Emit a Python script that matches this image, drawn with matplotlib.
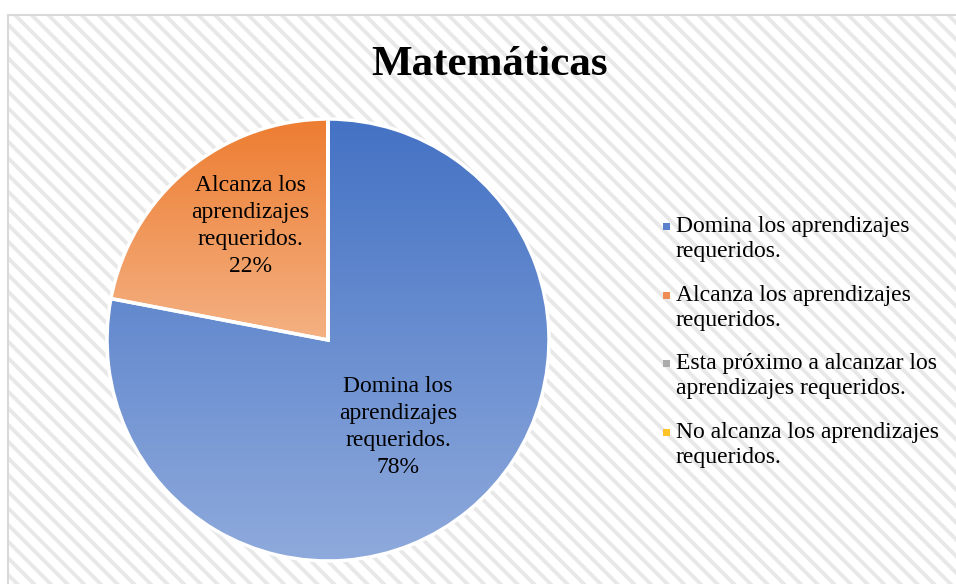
import numpy as np
import matplotlib
matplotlib.use('Agg')
import matplotlib.pyplot as plt
from matplotlib.patches import Rectangle, Patch
from matplotlib.colors import LinearSegmentedColormap

plt.rcParams['font.family'] = ['Liberation Serif', 'DejaVu Serif']
plt.rcParams['hatch.linewidth'] = 2.8

# --- data ---
title = 'Matemáticas'
categories = ['Domina los aprendizajes\nrequeridos.',
              'Alcanza los aprendizajes\nrequeridos.',
              'Esta próximo a alcanzar los\naprendizajes requeridos.',
              'No alcanza los aprendizajes\nrequeridos.']
slice_labels = ['Domina los\naprendizajes\nrequeridos.', 'Alcanza los\naprendizajes\nrequeridos.', '', '']
values = [78, 22, 0, 0]
top_colors = ['#4472C4', '#ED7D31', '#A5A5A5', '#FFC000']
bottom_colors = ['#8FAADC', '#F4B183', '#D0D0D0', '#FFD966']
legend_colors = ['#5B80CC', '#EE8C54', '#ABABAB', '#FFC32A']

W, H = 956, 584
fig = plt.figure(figsize=(W / 100, H / 100), dpi=100)
fig.patch.set_facecolor('white')

# hatched chart area with light border
bg = Rectangle((8 / W, -0.01), 1.0, (H - 15) / H + 0.01, transform=fig.transFigure,
               facecolor='white', edgecolor='#e8e8e8', hatch='\\\\', linewidth=0, zorder=-2)
fig.patches.append(bg)
fig.patches.append(Rectangle((8 / W, -0.01), 1.0, (H - 15) / H + 0.01, transform=fig.transFigure,
                             facecolor='none', edgecolor='#d9d9d9', linewidth=1.5, zorder=-1))

# pie axes: center (328, 340), radius 221 px
r = 221
ax = fig.add_axes([(328 - r) / W, (H - 340 - r) / H, 2 * r / W, 2 * r / H])
ax.patch.set_visible(False)
wedges, _ = ax.pie(values, startangle=90, counterclock=False, radius=1,
                   wedgeprops=dict(edgecolor='white', linewidth=2.5))
ax.axis('off')

# vertical gradient inside each wedge
grad = np.linspace(0, 1, 256).reshape(-1, 1)
for w, v, c0, c1 in zip(wedges, values, top_colors, bottom_colors):
    if v == 0:
        continue
    w.set_facecolor('none')
    w.set_clip_on(False)
    verts = w.get_path().vertices
    ys = verts[:, 1]
    xs = verts[:, 0]
    cmap = LinearSegmentedColormap.from_list('g', [c0, c1])
    im = ax.imshow(grad, cmap=cmap, aspect='auto', origin='upper',
                   extent=[xs.min(), xs.max(), ys.min(), ys.max()], zorder=0.5)
    im.set_clip_path(w)
    w.set_zorder(1)
ax.set_xlim(-1, 1)
ax.set_ylim(-1, 1)
ax.set_aspect('equal')

# data labels
pct_pos = [(398, 427), (250, 226)]
for (px, py), lab, v in zip(pct_pos, slice_labels, values):
    ax.text(px, H - py, f'{lab}\n{v}%', transform=None, ha='center', va='center',
            fontsize=17, linespacing=1.36, color='#000000')

fig.text(489 / W, 1 - 65 / H, title, ha='center', va='center',
         fontsize=31, fontweight='bold')

# legend: invisible handles, square markers put next to the first line
handles = [Patch(facecolor='none', edgecolor='none') for c in legend_colors]
leg = fig.legend(handles, categories, loc='upper left',
                 bbox_to_anchor=(639 / W, 1 - 195 / H), frameon=False,
                 fontsize=17, handlelength=0.3, handleheight=0.3, handletextpad=0.35,
                 labelspacing=0.95)
for t in leg.get_texts():
    t.set_linespacing(1.25)

fig.canvas.draw()
for t, c in zip(leg.get_texts(), legend_colors):
    bb = t.get_window_extent()
    n_lines = t.get_text().count('\n') + 1
    y_first = bb.y1 - bb.height / n_lines / 2 + 1
    fig.patches.append(Rectangle(((bb.x0 - 13) / W, (y_first - 3.5) / H), 7 / W, 7 / H,
                                 transform=fig.transFigure, facecolor=c, edgecolor='none'))

fig.savefig('out.png', dpi=100)
